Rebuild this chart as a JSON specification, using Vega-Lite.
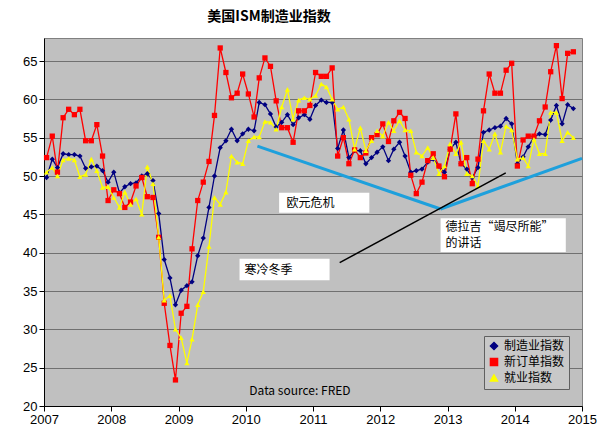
{
  "$schema": "https://vega.github.io/schema/vega-lite/v6.json",
  "width": 538,
  "height": 368,
  "padding": {"left": 22, "top": 10, "right": 20, "bottom": 5},
  "background": "white",
  "title": {"text": "美国ISM制造业指数", "font": "Noto Sans CJK SC", "fontSize": 14, "fontWeight": "bold", "anchor": "middle", "dx": -44, "offset": 14},
  "datasets": {
    "ism": [
      {"d":"2007-01-15","m":49.8,"n":52.4,"e":50.5},{"d":"2007-02-15","m":52.2,"n":55.2,"e":51.1},{"d":"2007-03-15","m":51.1,"n":50.5,"e":50.0},{"d":"2007-04-15","m":52.9,"n":57.6,"e":52.1},{"d":"2007-05-15","m":52.8,"n":58.7,"e":52.3},{"d":"2007-06-15","m":52.8,"n":58.0,"e":52.1},{"d":"2007-07-15","m":52.6,"n":58.7,"e":49.9},{"d":"2007-08-15","m":51.0,"n":54.6,"e":50.2},{"d":"2007-09-15","m":51.2,"n":54.6,"e":52.2},{"d":"2007-10-15","m":51.3,"n":56.7,"e":50.7},{"d":"2007-11-15","m":50.7,"n":52.6,"e":48.5},{"d":"2007-12-15","m":49.2,"n":46.8,"e":48.6},
      {"d":"2008-01-15","m":50.5,"n":48.2,"e":47.2},{"d":"2008-02-15","m":47.8,"n":47.7,"e":45.9},{"d":"2008-03-15","m":48.6,"n":45.9,"e":47.9},{"d":"2008-04-15","m":49.0,"n":46.6,"e":46.3},{"d":"2008-05-15","m":49.1,"n":48.7,"e":47.0},{"d":"2008-06-15","m":50.0,"n":49.8,"e":45.0},{"d":"2008-07-15","m":50.3,"n":47.3,"e":51.2},{"d":"2008-08-15","m":49.4,"n":47.2,"e":49.0},{"d":"2008-09-15","m":45.1,"n":42.0,"e":42.0},{"d":"2008-10-15","m":39.1,"n":33.4,"e":33.8},{"d":"2008-11-15","m":36.7,"n":27.9,"e":34.4},{"d":"2008-12-15","m":33.2,"n":23.4,"e":30.0},
      {"d":"2009-01-15","m":35.1,"n":32.1,"e":28.9},{"d":"2009-02-15","m":35.7,"n":33.0,"e":25.6},{"d":"2009-03-15","m":36.2,"n":40.5,"e":28.7},{"d":"2009-04-15","m":39.6,"n":46.8,"e":33.2},{"d":"2009-05-15","m":41.9,"n":49.2,"e":34.9},{"d":"2009-06-15","m":45.9,"n":51.9,"e":40.8},{"d":"2009-07-15","m":50.0,"n":57.9,"e":47.2},{"d":"2009-08-15","m":53.7,"n":66.7,"e":46.3},{"d":"2009-09-15","m":54.6,"n":63.5,"e":47.9},{"d":"2009-10-15","m":56.1,"n":60.2,"e":52.6},{"d":"2009-11-15","m":54.6,"n":60.8,"e":51.8},{"d":"2009-12-15","m":55.5,"n":63.3,"e":51.6},
      {"d":"2010-01-15","m":56.1,"n":60.7,"e":54.6},{"d":"2010-02-15","m":55.9,"n":57.7,"e":55.1},{"d":"2010-03-15","m":59.6,"n":62.8,"e":55.1},{"d":"2010-04-15","m":59.3,"n":65.4,"e":57.1},{"d":"2010-05-15","m":58.1,"n":64.3,"e":57.0},{"d":"2010-06-15","m":56.4,"n":59.8,"e":56.1},{"d":"2010-07-15","m":57.0,"n":56.3,"e":59.0},{"d":"2010-08-15","m":58.0,"n":56.3,"e":61.3},{"d":"2010-09-15","m":56.7,"n":54.4,"e":57.4},{"d":"2010-10-15","m":57.6,"n":58.5,"e":59.9},{"d":"2010-11-15","m":58.0,"n":58.5,"e":60.2},{"d":"2010-12-15","m":57.4,"n":59.2,"e":60.0},
      {"d":"2011-01-15","m":59.2,"n":63.5,"e":60.5},{"d":"2011-02-15","m":59.9,"n":63.0,"e":62.0},{"d":"2011-03-15","m":59.6,"n":63.0,"e":61.6},{"d":"2011-04-15","m":59.6,"n":64.1,"e":60.0},{"d":"2011-05-15","m":53.6,"n":52.6,"e":58.7},{"d":"2011-06-15","m":56.0,"n":55.0,"e":59.0},{"d":"2011-07-15","m":52.4,"n":51.6,"e":57.4},{"d":"2011-08-15","m":53.3,"n":53.4,"e":53.5},{"d":"2011-09-15","m":53.3,"n":52.4,"e":56.3},{"d":"2011-10-15","m":51.6,"n":53.0,"e":53.3},{"d":"2011-11-15","m":52.4,"n":55.0,"e":54.6},{"d":"2011-12-15","m":53.1,"n":55.4,"e":55.9},
      {"d":"2012-01-15","m":53.8,"n":56.8,"e":55.2},{"d":"2012-02-15","m":52.0,"n":54.5,"e":57.0},{"d":"2012-03-15","m":53.5,"n":57.2,"e":55.9},{"d":"2012-04-15","m":54.4,"n":58.3,"e":57.2},{"d":"2012-05-15","m":52.6,"n":57.5,"e":56.0},{"d":"2012-06-15","m":50.5,"n":50.1,"e":55.9},{"d":"2012-07-15","m":50.7,"n":47.7,"e":53.1},{"d":"2012-08-15","m":50.9,"n":49.2,"e":52.6},{"d":"2012-09-15","m":51.8,"n":52.0,"e":53.7},{"d":"2012-10-15","m":52.2,"n":52.9,"e":52.4},{"d":"2012-11-15","m":51.3,"n":51.3,"e":50.3},{"d":"2012-12-15","m":50.5,"n":49.9,"e":51.3},
      {"d":"2013-01-15","m":53.5,"n":53.5,"e":54.2},{"d":"2013-02-15","m":54.4,"n":58.1,"e":52.9},{"d":"2013-03-15","m":51.6,"n":51.6,"e":54.4},{"d":"2013-04-15","m":50.9,"n":52.4,"e":50.3},{"d":"2013-05-15","m":49.8,"n":49.0,"e":50.0},{"d":"2013-06-15","m":51.1,"n":52.2,"e":48.7},{"d":"2013-07-15","m":55.7,"n":58.5,"e":54.6},{"d":"2013-08-15","m":56.0,"n":63.3,"e":53.5},{"d":"2013-09-15","m":56.3,"n":60.8,"e":55.5},{"d":"2013-10-15","m":56.5,"n":60.8,"e":53.1},{"d":"2013-11-15","m":57.5,"n":63.8,"e":56.5},{"d":"2013-12-15","m":56.8,"n":64.7,"e":56.0},
      {"d":"2014-01-15","m":51.6,"n":51.3,"e":52.2},{"d":"2014-02-15","m":52.5,"n":54.7,"e":52.4},{"d":"2014-03-15","m":53.8,"n":55.2,"e":51.3},{"d":"2014-04-15","m":55.1,"n":55.2,"e":54.8},{"d":"2014-05-15","m":55.5,"n":57.2,"e":52.9},{"d":"2014-06-15","m":55.4,"n":59.0,"e":52.9},{"d":"2014-07-15","m":57.3,"n":63.6,"e":58.3},{"d":"2014-08-15","m":59.2,"n":67.0,"e":58.3},{"d":"2014-09-15","m":56.8,"n":60.1,"e":54.6},{"d":"2014-10-15","m":59.3,"n":66.0,"e":55.7},{"d":"2014-11-15","m":58.8,"n":66.2,"e":55.0}
    ],
    "lines": [
      {"x":"2010-03-05","y":53.9,"x2":"2012-11-24","y2":45.7,"c":"trend"},
      {"x":"2012-11-24","y":45.7,"x2":"2015-01-01","y2":52.3,"c":"trend"},
      {"x":"2011-05-26","y":38.7,"x2":"2013-11-13","y2":50.4,"c":"speech"}
    ],
    "boxes": [
      {"x":"2010-07-01","x2":"2011-11-03","y":47.8,"y2":45.2},
      {"x":"2012-11-24","x2":"2014-10-05","y":44.5,"y2":40.1},
      {"x":"2009-11-28","x2":"2011-04-01","y":39.2,"y2":36.4}
    ],
    "notes": [
      {"x":"2010-08-10","y":46.5,"t":"欧元危机"},
      {"x":"2012-12-20","y":43.4,"t":"德拉吉“竭尽所能”"},
      {"x":"2012-12-20","y":41.2,"t":"的讲话"},
      {"x":"2009-12-25","y":37.8,"t":"寒冷冬季"},
      {"x":"2010-01-20","y":21.9,"t":"Data source: FRED"}
    ]
  },
  "layer": [
    {
      "data": {"name": "ism"},
      "transform": [{"fold": ["m", "n", "e"], "as": ["k", "v"]},
        {"lookup": "k", "from": {"data": {"values": [{"k":"m","s":"制造业指数"},{"k":"n","s":"新订单指数"},{"k":"e","s":"就业指数"}]}, "key": "k", "fields": ["s"]}}],
      "encoding": {
        "x": {"field": "d", "type": "temporal",
          "scale": {"domain": ["2007-01-01", "2015-01-01"]},
          "axis": {"title": null, "format": "%Y", "tickCount": {"interval": "year", "step": 1}, "grid": false, "labelFontSize": 13, "labelFont": "Liberation Sans", "labelColor": "black", "domainColor": "black", "tickColor": "black", "labelFlush": false}},
        "y": {"field": "v", "type": "quantitative",
          "scale": {"domain": [20, 68], "nice": false},
          "axis": {"title": null, "values": [20,25,30,35,40,45,50,55,60,65], "gridColor": "#707070", "labelFontSize": 13, "labelFont": "Liberation Sans", "labelColor": "black", "domainColor": "black", "tickColor": "black"}},
        "color": {"field": "s", "type": "nominal",
          "scale": {"domain": ["制造业指数","新订单指数","就业指数"], "range": ["#000080", "#ff0000", "#ffff00"]},
          "legend": {"title": null, "orient": "none", "legendX": 440, "legendY": 298, "labelFont": "Noto Sans CJK SC", "labelFontSize": 12, "labelColor": "black", "fillColor": "#c8c8c8", "strokeColor": "#606060", "padding": 4, "rowPadding": 2, "symbolSize": 50, "symbolStrokeWidth": 1.5}}
      },
      "layer": [
        {"mark": {"type": "line", "strokeWidth": 1.3}},
        {"mark": {"type": "point", "filled": true, "size": 28, "opacity": 1},
          "encoding": {"shape": {"field": "s", "type": "nominal",
            "scale": {"domain": ["制造业指数","新订单指数","就业指数"], "range": ["diamond", "square", "triangle-up"]},
            "legend": {"title": null, "orient": "none", "legendX": 440, "legendY": 298, "labelFont": "Noto Sans CJK SC", "labelFontSize": 12, "labelColor": "black", "fillColor": "#c8c8c8", "strokeColor": "#606060", "padding": 4, "rowPadding": 2, "symbolSize": 50, "symbolStrokeWidth": 1.5}}}}
      ]
    },
    {
      "data": {"name": "lines"},
      "mark": {"type": "rule"},
      "encoding": {
        "x": {"field": "x", "type": "temporal"},
        "x2": {"field": "x2"},
        "y": {"field": "y", "type": "quantitative"},
        "y2": {"field": "y2"},
        "color": {"condition": {"test": "datum.c == 'trend'", "value": "#1ea0dc"}, "value": "black"},
        "strokeWidth": {"condition": {"test": "datum.c == 'trend'", "value": 3}, "value": 1.5}
      }
    },
    {
      "data": {"name": "boxes"},
      "mark": {"type": "rect", "fill": "white"},
      "encoding": {
        "x": {"field": "x", "type": "temporal"},
        "x2": {"field": "x2"},
        "y": {"field": "y", "type": "quantitative"},
        "y2": {"field": "y2"}
      }
    },
    {
      "data": {"name": "notes"},
      "mark": {"type": "text", "align": "left", "baseline": "middle", "font": "Noto Sans CJK SC", "fontSize": 12, "color": "black"},
      "encoding": {
        "x": {"field": "x", "type": "temporal"},
        "y": {"field": "y", "type": "quantitative"},
        "text": {"field": "t"}
      }
    }
  ],
  "config": {
    "view": {"fill": "#c0c0c0", "stroke": "#808080"}
  }
}
